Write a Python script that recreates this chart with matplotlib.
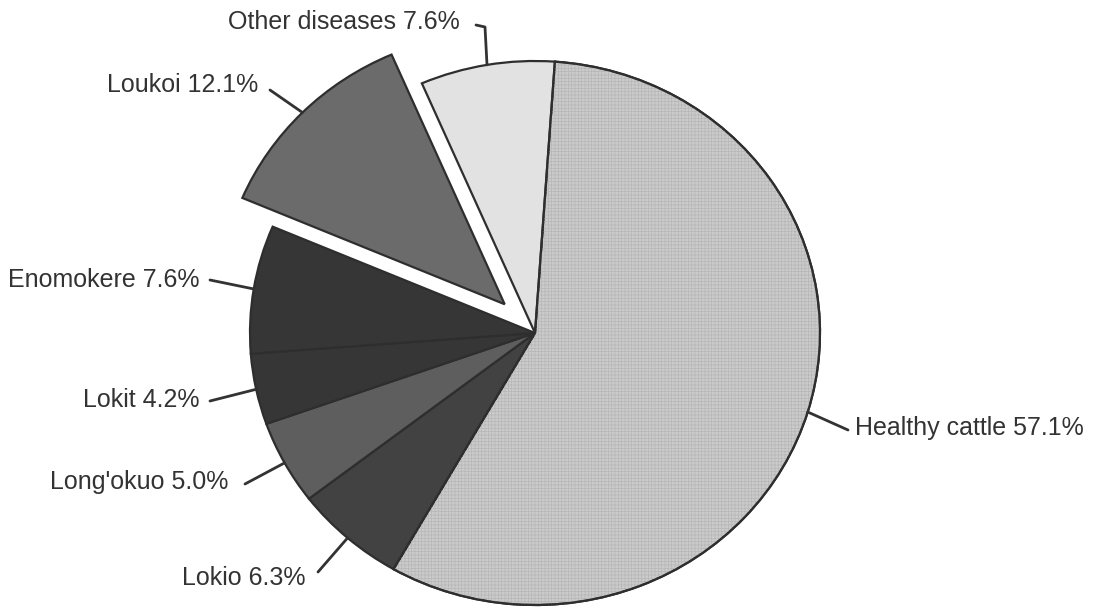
import numpy as np
import matplotlib.pyplot as plt
from matplotlib.patches import Wedge

plt.rcParams['font.family'] = ['Liberation Sans', 'DejaVu Sans']
plt.rcParams['hatch.linewidth'] = 0.5

# share of cattle by condition (%), drawn clockwise from the top
labels = ["Healthy cattle", "Lokio", "Long'okuo", "Lokit", "Enomokere", "Loukoi", "Other diseases"]
shares = [57.1, 6.3, 5.0, 4.2, 7.6, 12.1, 7.6]
colors = ["#cbcbcb", "#424242", "#5e5e5e", "#363636", "#363636", "#6b6b6b", "#e2e2e2"]
explode = [0, 0, 0, 0, 0, 0.15, 0]

# pixel geometry of the pie (slightly wider than tall)
W, H = 1093, 608
cx, cy = 535, 333
rx, ry = 285, 272


def px(x, y):
    # image pixel -> data units of the unit pie
    return (x - cx) / rx, (cy - y) / ry


# text anchor, line start near the text, optional elbow
label_pos = {
    "Healthy cattle": ((855, 428), (848, 430), None, "left"),
    "Lokio": ((305, 578), (318, 572), None, "right"),
    "Long'okuo": ((228, 482), (245, 484), None, "right"),
    "Lokit": ((200, 400), (210, 401), None, "right"),
    "Enomokere": ((200, 280), (210, 280), None, "right"),
    "Loukoi": ((258, 85), (270, 90), None, "right"),
    "Other diseases": ((460, 22), (476, 25), (485, 27), "right"),
}

fig = plt.figure(figsize=(W / 100, H / 100), dpi=100)
ax = fig.add_axes([0, 0, 1, 1])

wedges, _ = ax.pie(shares, colors=colors, explode=explode, startangle=86,
                   counterclock=False, radius=1.0,
                   wedgeprops=dict(edgecolor="#2e2e2e", linewidth=1.6))

# fine grid texture on the healthy slice
w0 = wedges[0]
ax.add_patch(Wedge(w0.center, w0.r, w0.theta1, w0.theta2, fill=False,
                   hatch="+++++", edgecolor="#b6b6b6", linewidth=0, zorder=1.5))
ax.add_patch(Wedge(w0.center, w0.r, w0.theta1, w0.theta2, fill=False,
                   edgecolor="#2e2e2e", linewidth=1.6, zorder=1.6))

for w, name, val in zip(wedges, labels, shares):
    mid = np.deg2rad((w.theta1 + w.theta2) / 2)
    ex, ey = w.center[0] + np.cos(mid), w.center[1] + np.sin(mid)
    (tx, ty), start, elbow, ha = label_pos[name]
    pts = [px(*start)]
    if elbow is not None:
        pts.append(px(*elbow))
    pts.append((ex, ey))
    xs, ys = zip(*pts)
    ax.plot(xs, ys, color="#333333", lw=2, solid_capstyle="round", zorder=3)
    ax.text(*px(tx, ty), f"{name} {val:.1f}%", ha=ha, va="center",
            fontsize=18, color="#333333")

ax.set_aspect("auto")
ax.set_xlim(-cx / rx, (W - cx) / rx)
ax.set_ylim(-(H - cy) / ry, cy / ry)
ax.axis("off")

fig.savefig("out.png", dpi=100, facecolor="white")
